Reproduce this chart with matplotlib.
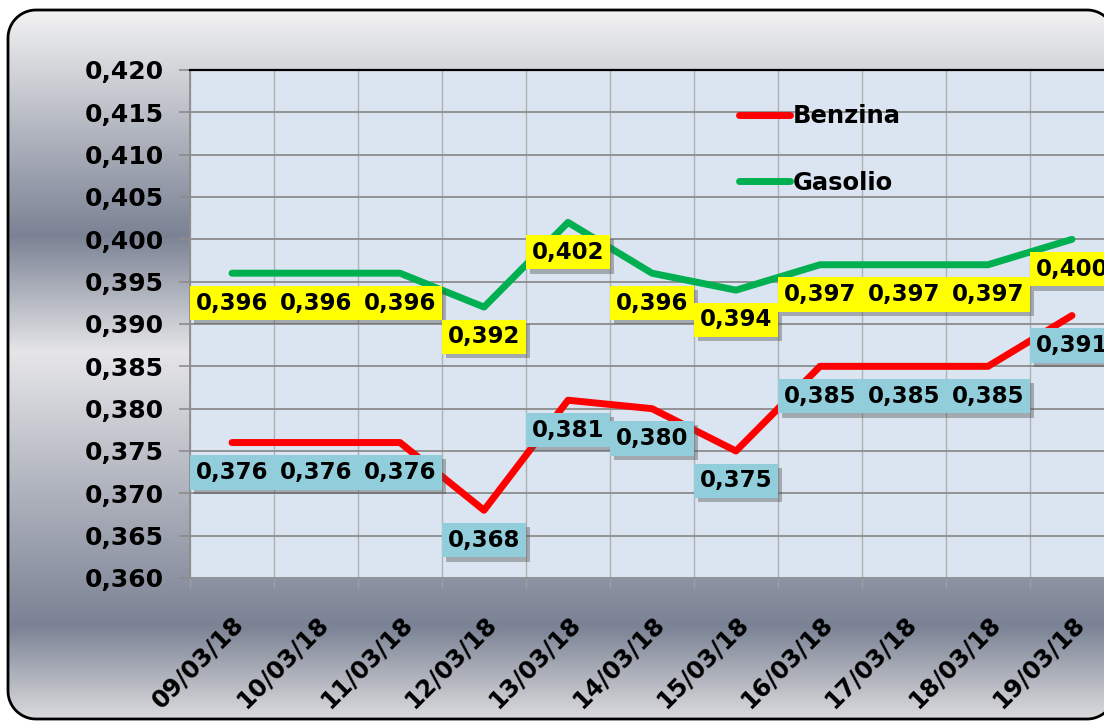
import matplotlib
matplotlib.use("Agg")
import matplotlib.pyplot as plt
import matplotlib.patheffects as pe
import numpy as np
from matplotlib.patches import Polygon
from matplotlib.ticker import FuncFormatter, MultipleLocator, FixedLocator

## data
dates = ["09/03/18", "10/03/18", "11/03/18", "12/03/18", "13/03/18", "14/03/18",
         "15/03/18", "16/03/18", "17/03/18", "18/03/18", "19/03/18"]
benzina = [0.376, 0.376, 0.376, 0.368, 0.381, 0.380, 0.375, 0.385, 0.385, 0.385, 0.391]
gasolio = [0.396, 0.396, 0.396, 0.392, 0.402, 0.396, 0.394, 0.397, 0.397, 0.397, 0.400]

W, H = 1104, 722
BGW = 1200  # background layer is wider than the canvas, the frame runs off the right
fig = plt.figure(figsize=(W / 100, H / 100), dpi=100)
plt.rcParams["font.family"] = ["DejaVu Sans"]
plt.rcParams["font.weight"] = "bold"


def rounded_rect(x0, y0, w, h, r, n=24):
    # polyline outline of a rounded rectangle (y grows downwards)
    pts = []
    for cx, cy, a0 in ((x0 + w - r, y0 + r, -90), (x0 + w - r, y0 + h - r, 0),
                       (x0 + r, y0 + h - r, 90), (x0 + r, y0 + r, 180)):
        a = np.radians(np.linspace(a0, a0 + 90, n))
        pts += list(zip(cx + r * np.cos(a), cy + r * np.sin(a)))
    return np.array(pts)


## background: grey metallic gradient inside a rounded frame
bg = fig.add_axes([0, 0, BGW / W, 1])
bg.set_xlim(0, BGW)
bg.set_ylim(H, 0)
bg.axis("off")
stops_y = [10, 235, 352, 625, 718]
stops_c = np.array([[0.95, 0.95, 0.95],
                    [0.48, 0.51, 0.58],
                    [0.90, 0.90, 0.91],
                    [0.48, 0.51, 0.58],
                    [0.86, 0.86, 0.87]])
rows = np.arange(H)
grad = np.stack([np.interp(rows, stops_y, stops_c[:, k]) for k in range(3)], axis=1)
img = np.repeat(grad[:, None, :], 2, axis=1)
im = bg.imshow(img, extent=[0, BGW, H, 0], aspect="auto", zorder=0)
outline = rounded_rect(8, 10, 1107, 709, 28)
frame = Polygon(outline, closed=True, facecolor="none", edgecolor="black",
                linewidth=2, zorder=2)
bg.add_patch(frame)
im.set_clip_path(frame)

## main plot area (runs past the right edge like the original)
ax = fig.add_axes([190 / W, 144 / H, 924 / W, 508 / H])
ax.set_facecolor("#dbe5f1")
x = np.arange(len(dates))
ax.set_xlim(-0.5, len(dates) - 0.5)
ax.set_ylim(0.360, 0.420)

ax.plot(x, benzina, color="#ff0000", lw=5, solid_capstyle="round",
        solid_joinstyle="round", label="Benzina", zorder=3)
ax.plot(x, gasolio, color="#00b050", lw=5, solid_capstyle="round",
        solid_joinstyle="round", label="Gasolio", zorder=3)

shadow = [pe.SimplePatchShadow(offset=(3, -3), shadow_rgbFace="#505050", alpha=0.4),
          pe.Normal()]
for series, col in ((gasolio, "#ffff00"), (benzina, "#92cddc")):
    for xi, v in zip(x, series):
        t = ax.annotate(f"{v:.3f}".replace(".", ","), (xi, v), xytext=(0, -21.5),
                        textcoords="offset points", ha="center", va="center",
                        fontsize=16.5, fontweight="bold", color="black", zorder=5,
                        bbox=dict(boxstyle="square,pad=0.25", facecolor=col,
                                  edgecolor="none"))
        t.get_bbox_patch().set_path_effects(shadow)

## axes styling
ax.yaxis.set_major_locator(MultipleLocator(0.005))
ax.yaxis.set_major_formatter(FuncFormatter(lambda v, p: f"{v:.3f}".replace(".", ",")))
ax.set_xticks(x)
ax.set_xticklabels(dates, rotation=45, ha="right", rotation_mode="anchor")
ax.xaxis.set_minor_locator(FixedLocator(np.arange(-0.5, len(dates), 1.0)))
ax.tick_params(axis="x", which="major", length=0, pad=24, labelsize=17.5)
ax.tick_params(axis="x", which="minor", length=7, color="#a0a0a0", width=1)
ax.tick_params(axis="y", length=8, color="#8c8c8c", width=1.2, pad=11, labelsize=18)
for lab in ax.get_xticklabels() + ax.get_yticklabels():
    lab.set_fontweight("bold")

ax.grid(axis="y", which="major", color="#8c8c8c", lw=1.3)
ax.grid(axis="x", which="minor", color="#b0b0b0", lw=1)
ax.set_axisbelow(True)
ax.spines["top"].set_color("black")
ax.spines["top"].set_linewidth(1.6)
ax.spines["left"].set_color("#8c8c8c")
ax.spines["left"].set_linewidth(1.3)
ax.spines["bottom"].set_visible(False)
ax.spines["right"].set_visible(False)

leg = ax.legend(loc="upper left", bbox_to_anchor=(0.584, 0.952), frameon=False,
                handlelength=2.1, handletextpad=0.1, labelspacing=1.75,
                borderaxespad=0, prop={"size": 17.5, "weight": "bold"})

fig.savefig("out.png", dpi=100)
